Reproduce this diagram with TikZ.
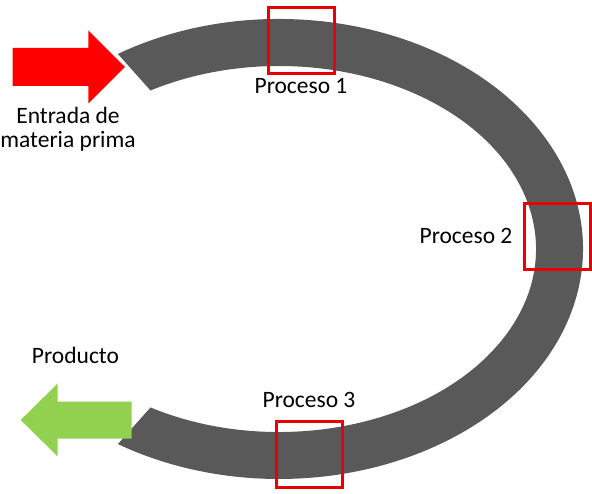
\documentclass[tikz,border=0pt]{standalone}
\usepackage{fontspec}
\setmainfont{Carlito}
\definecolor{anillo}{HTML}{595959}
\definecolor{entrada}{HTML}{FF0000}
\definecolor{salida}{HTML}{92D050}
\definecolor{marco}{HTML}{E80000}
\begin{document}
\begin{tikzpicture}[x=1pt,y=1pt,
		caja/.style={draw=marco, line width=3pt, minimum size=66pt, inner sep=0pt},
		rotulo/.style={font=\fontsize{23.5}{24}\selectfont, anchor=base, inner sep=0pt, align=center}]
	\useasboundingbox (0,0) rectangle (592,494);
	% anillo
	\begin{scope}[shift={(279,245)}]
		\fill[anillo] (122:304 and 230)
			arc[start angle=122, end angle=-122, x radius=304, y radius=230]
			-- (-120:257 and 183)
			arc[start angle=-120, end angle=120, x radius=257, y radius=183]
			-- cycle;
	\end{scope}
	% flechas
	\fill[entrada] (12.7,408)--(88.3,408)--(88.3,390.5)--(125,427)
		--(88.3,463.5)--(88.3,446)--(12.7,446)--cycle;
	\fill[salida] (131.7,55.3)--(57.7,55.3)--(57.7,37.5)--(20.7,74)
		--(57.7,110.5)--(57.7,92.3)--(131.7,92.3)--cycle;
	% procesos
	\node[caja] (p1) at (301.3,453.2) {};
	\node[caja] (p2) at (557.2,257.8) {};
	\node[caja] (p3) at (309.5,39.8) {};
	\node[rotulo] (t1) at (301,400) {Proceso 1};
	\node[rotulo] (t2) at (466,250) {Proceso 2};
	\node[rotulo] (t3) at (309,86) {Proceso 3};
	\node[rotulo] (te) at (68,346) {Entrada de\\materia prima};
	\node[rotulo] (ts) at (75.5,130) {Producto};
\end{tikzpicture}
\end{document}
